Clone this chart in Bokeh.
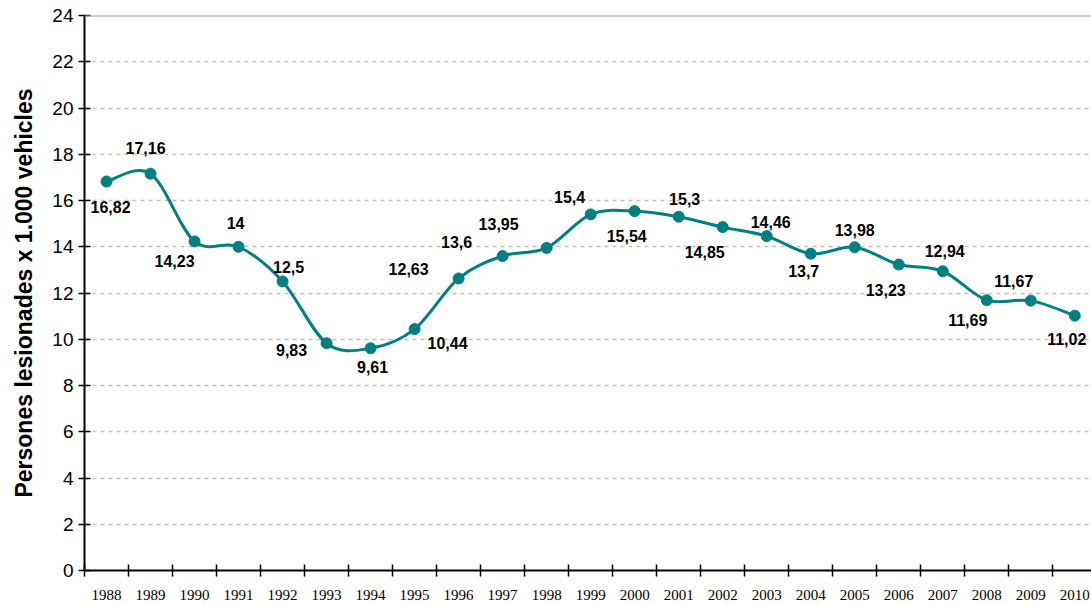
import numpy as np
from bokeh.plotting import figure
from bokeh.models import FixedTicker, Span, Range1d, ColumnDataSource
from bokeh.core.properties import value
from bokeh.embed import file_html
from bokeh.resources import INLINE

# ---- data ----
years = ["1988", "1989", "1990", "1991", "1992", "1993", "1994", "1995",
         "1996", "1997", "1998", "1999", "2000", "2001", "2002", "2003",
         "2004", "2005", "2006", "2007", "2008", "2009", "2010"]
injured_rate = [16.82, 17.16, 14.23, 14.0, 12.5, 9.83, 9.61, 10.44,
                12.63, 13.6, 13.95, 15.4, 15.54, 15.3, 14.85, 14.46,
                13.7, 13.98, 13.23, 12.94, 11.69, 11.67, 11.02]
y_ticks = [0, 2, 4, 6, 8, 10, 12, 14, 16, 18, 20, 22, 24]

# label offsets in screen pixels (placement of data labels)
label_dx = [4, -5, -20, -3, 6, -35, 2, 33, -50, -46, -48, -21, -8, 6, -18, 4, -7, 0, -13, 2, -19, -17, -8]
label_dy = [25, -26, 20, -24, -14, 7, 19, 14, -9, -14, -24, -17, 25, -18, 25, -14, 17, -17, 25, -20, 20, -20, 23]

TEAL = "#008080"
n = len(years)
xs = np.arange(n, dtype=float)
ys = np.array(injured_rate, dtype=float)


def fmt(v):
    s = ("%.2f" % v).rstrip("0").rstrip(".")
    return s.replace(".", ",")


label_text = [fmt(v) for v in injured_rate]

p = figure(width=1091, height=605, output_backend="svg", toolbar_location=None,
           x_range=Range1d(-0.5, 22.38), y_range=Range1d(0, 24),
           min_border_left=84, min_border_right=0, min_border_top=15, min_border_bottom=35)
p.outline_line_color = None
p.background_fill_color = "white"
p.border_fill_color = "white"

# grid
p.xgrid.visible = False
p.ygrid.grid_line_color = "#c0c0c0"
p.ygrid.grid_line_dash = "4 4"
p.ygrid.grid_line_width = 1.5
p.add_layout(Span(location=24, dimension="width", line_color="#a0a0a0", line_width=2))

# smoothed line via bezier segments (Catmull-Rom style control points)
px = np.concatenate([[xs[0]], xs, [xs[-1]]])
py = np.concatenate([[ys[0]], ys, [ys[-1]]])
x0 = px[1:-2]; y0 = py[1:-2]
x1 = px[2:-1]; y1 = py[2:-1]
cx0 = x0 + (px[2:-1] - px[:-3]) / 6.0
cy0 = y0 + (py[2:-1] - py[:-3]) / 6.0
cx1 = x1 - (px[3:] - px[1:-2]) / 6.0
cy1 = y1 - (py[3:] - py[1:-2]) / 6.0
p.bezier(x0=x0, y0=y0, x1=x1, y1=y1, cx0=cx0, cy0=cy0, cx1=cx1, cy1=cy1,
         line_color=TEAL, line_width=3, line_cap="round")

p.scatter(xs, ys, size=11, marker="circle", fill_color=TEAL, line_color=TEAL)

src = ColumnDataSource(dict(x=xs, y=ys, t=label_text, dx=label_dx, dy=label_dy))
p.text(x="x", y="y", text="t", x_offset="dx", y_offset="dy", source=src,
       text_font=value("Liberation Sans"), text_font_style="bold",
       text_font_size="16px", text_color="black",
       text_align="center", text_baseline="middle")

# y axis
p.yaxis.ticker = FixedTicker(ticks=y_ticks)
p.yaxis.axis_line_width = 2
p.yaxis.axis_line_color = "black"
p.yaxis.major_tick_in = 6
p.yaxis.major_tick_out = 6
p.yaxis.major_tick_line_width = 1.5
p.yaxis.minor_tick_line_color = None
p.yaxis.major_label_text_font = "Liberation Sans"
p.yaxis.major_label_text_font_size = "19px"
p.yaxis.major_label_text_color = "black"
p.yaxis.major_label_standoff = 5
p.yaxis.axis_label = "Persones lesionades x 1.000 vehicles"
p.yaxis.axis_label_text_font = "Liberation Sans"
p.yaxis.axis_label_text_font_style = "bold"
p.yaxis.axis_label_text_font_size = "23px"
p.yaxis.axis_label_text_color = "black"
p.yaxis.axis_label_standoff = 12

# x axis: labels at centers, ticks at boundaries
p.xaxis.ticker = FixedTicker(ticks=list(range(n)), minor_ticks=[i - 0.5 for i in range(n + 1)])
p.xaxis.major_label_overrides = {i: years[i] for i in range(n)}
p.xaxis.axis_line_width = 2
p.xaxis.axis_line_color = "black"
p.xaxis.major_tick_line_color = None
p.xaxis.major_tick_in = 0
p.xaxis.major_tick_out = 0
p.xaxis.minor_tick_line_color = "black"
p.xaxis.minor_tick_line_width = 1.5
p.xaxis.minor_tick_in = 6
p.xaxis.minor_tick_out = 6
p.xaxis.major_label_text_font = "Liberation Serif"
p.xaxis.major_label_text_font_size = "15px"
p.xaxis.major_label_text_color = "black"
p.xaxis.major_label_standoff = 13

open("out.html", "w").write(file_html(p, INLINE))
